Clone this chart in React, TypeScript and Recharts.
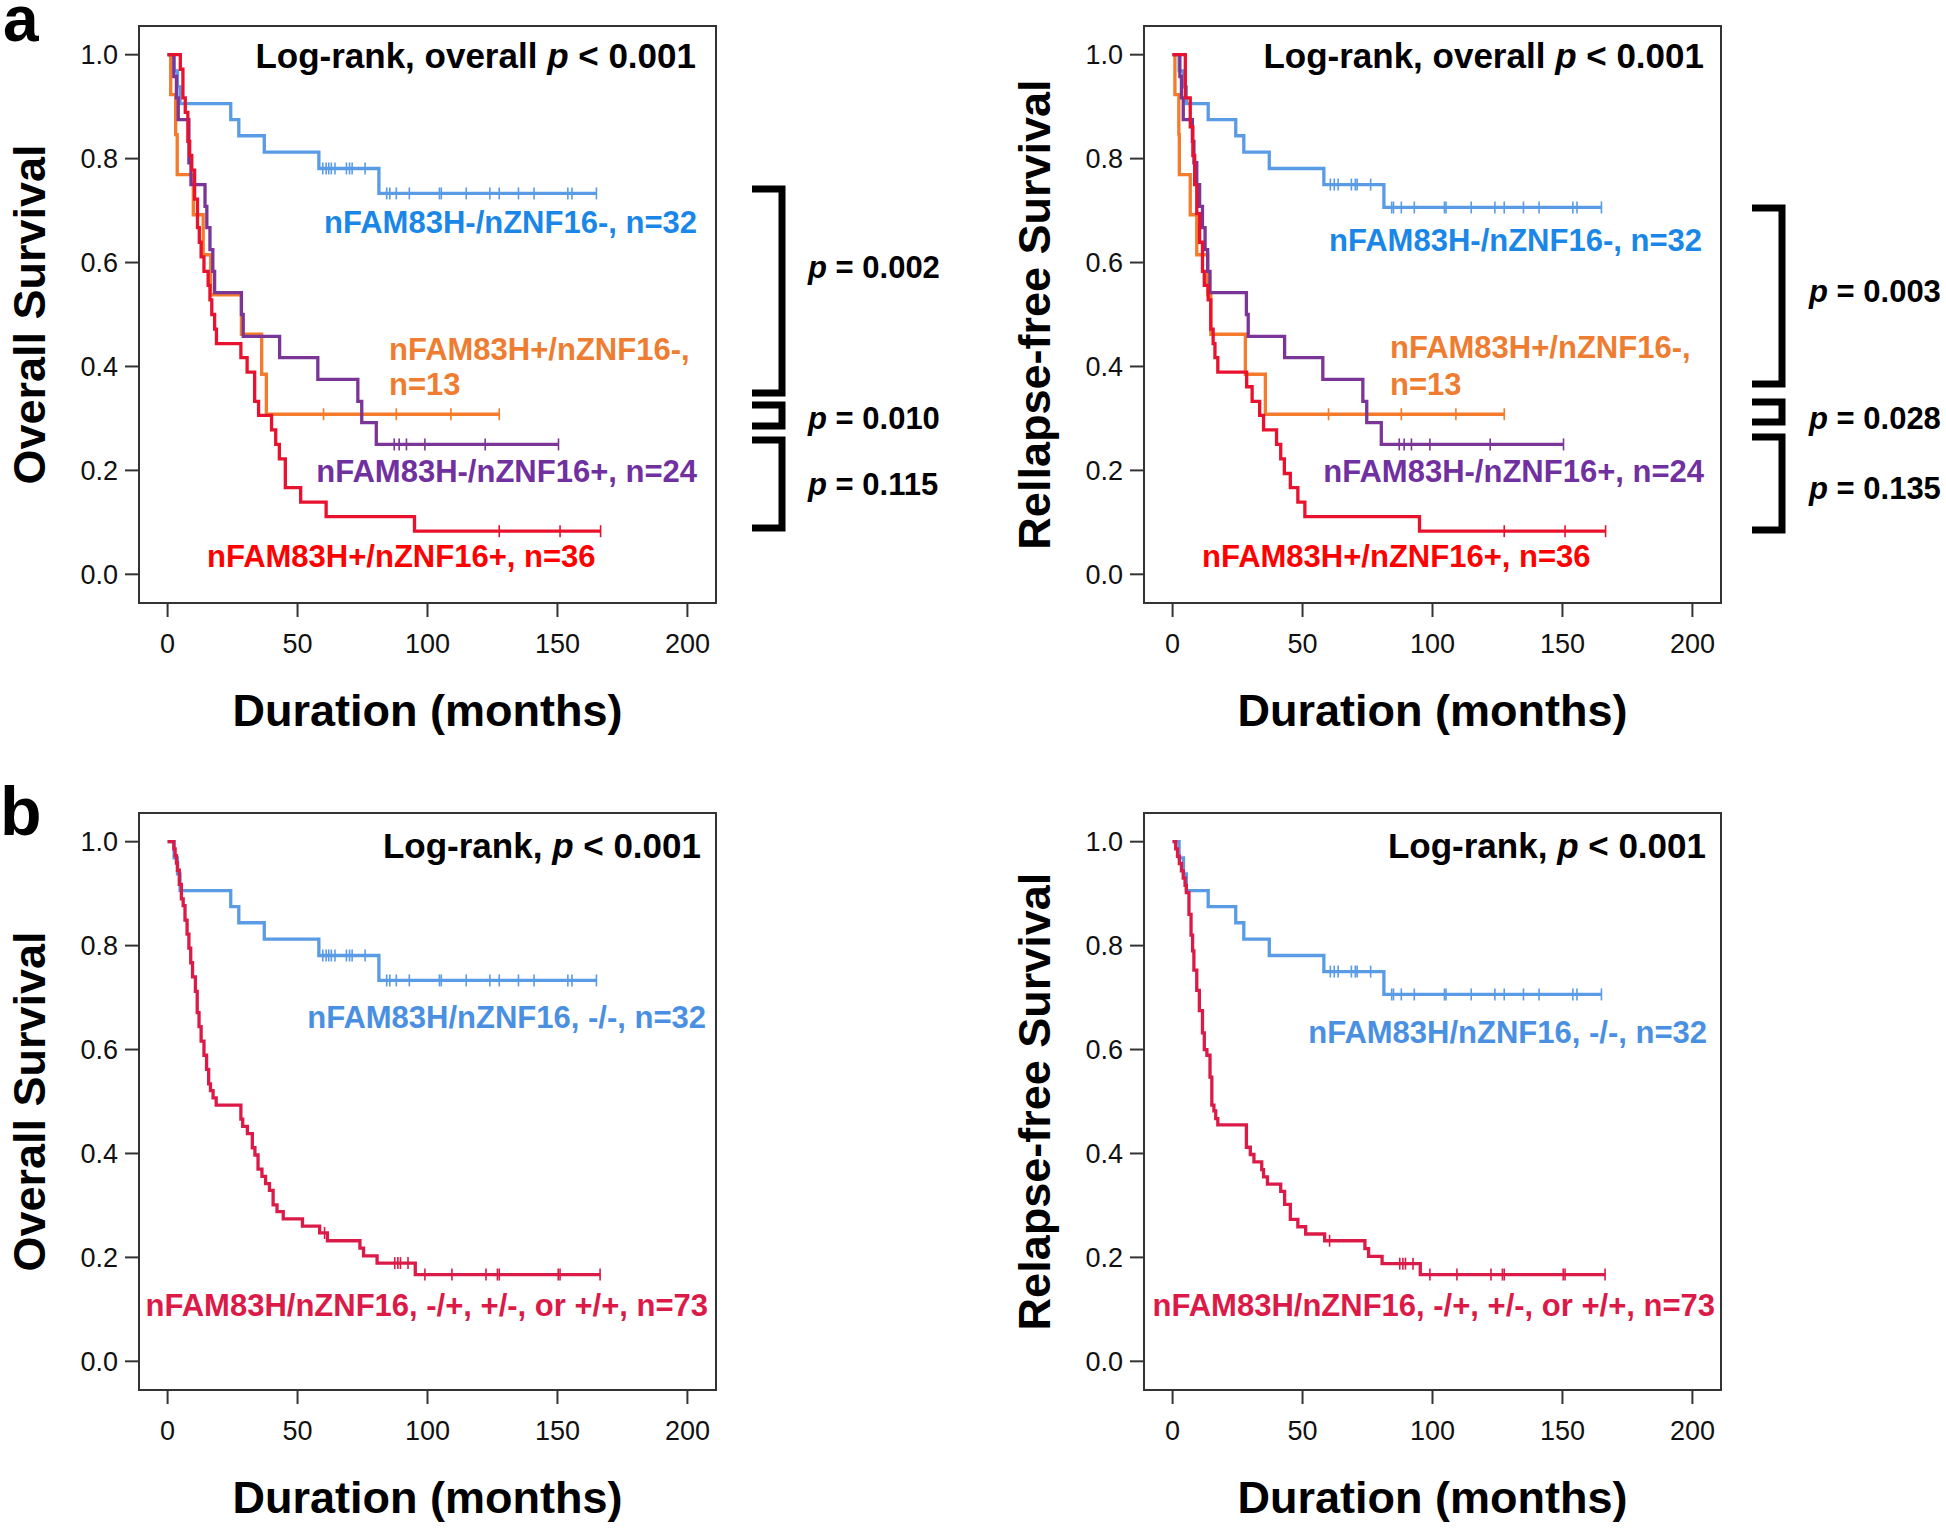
import React from 'react';
import { ComposedChart, Line, Scatter, XAxis, YAxis, ReferenceArea } from 'recharts';

type Pt = [number, number];

const xTicks = [0, 50, 100, 150, 200];
const yTicks = [0, 0.2, 0.4, 0.6, 0.8, 1.0];

// nFAM83H-/nZNF16- (same patients in a and b)
const osBlue: Pt[] = [[0, 1], [2.5, 0.969], [3.8, 0.938], [4.8, 0.906], [24.3, 0.875], [27.4, 0.844], [37.2, 0.8125], [58.2, 0.781], [81.3, 0.733]];
const osBlueCens = [59.7, 61, 62, 63, 64.4, 68.8, 70, 71, 76, 84.3, 85.5, 88, 93, 104.6, 105.3, 114.9, 124, 127.6, 135, 141, 154, 155.6, 165];
const rfsBlue: Pt[] = [[0, 1], [2.5, 0.969], [4.2, 0.938], [5.3, 0.906], [13.7, 0.875], [24.3, 0.844], [27.4, 0.8125], [37.2, 0.781], [58.2, 0.75], [81.3, 0.706]];
const rfsBlueCens = [60.7, 62.2, 63.7, 68.8, 70.3, 71, 76.2, 84.3, 85, 88, 93, 104.6, 105.2, 114.9, 124, 127.6, 135, 141, 154, 155.6, 165];

// a, overall survival
const osOrange: Pt[] = [[0, 1], [1.2, 0.923], [3.1, 0.846], [3.7, 0.769], [9.9, 0.692], [13.7, 0.615], [16.6, 0.538], [28.4, 0.462], [36.2, 0.385], [38, 0.308]];
const osOrangeCens = [60, 88, 109, 127.6];
const osPurple: Pt[] = [[0, 1], [2.4, 0.958], [3.4, 0.917], [4.1, 0.875], [8.2, 0.792], [9, 0.75], [14.4, 0.708], [15.1, 0.667], [16.3, 0.625], [17.4, 0.583], [18.1, 0.542], [28.4, 0.5], [29.1, 0.458], [43.1, 0.417], [57.8, 0.375], [73.2, 0.333], [74.7, 0.292], [80.3, 0.25]];
const osPurpleCens = [87.2, 89.1, 91.9, 99, 122.2, 150.4];
const osRed: Pt[] = [[0, 1], [4.9, 0.972], [5.9, 0.917], [6.8, 0.889], [7.8, 0.833], [8.5, 0.806], [9.3, 0.778], [10.4, 0.722], [11.5, 0.667], [12.2, 0.639], [12.9, 0.611], [14, 0.583], [15.6, 0.556], [16.3, 0.528], [17, 0.5], [18.1, 0.472], [18.8, 0.444], [28.2, 0.417], [30.6, 0.389], [33.5, 0.333], [35, 0.306], [40, 0.278], [41.6, 0.25], [43, 0.222], [45.3, 0.167], [51.2, 0.139], [61, 0.111], [95, 0.083]];
const osRedCens = [127.6, 151, 166.6];

// a, relapse-free survival
const rfsOrange: Pt[] = [[0, 1], [0.9, 0.923], [2.4, 0.846], [2.6, 0.769], [6.8, 0.692], [9.3, 0.615], [13.5, 0.538], [14.7, 0.462], [28, 0.385], [35.7, 0.308]];
const rfsOrangeCens = [60, 88, 109, 127.6];
const rfsPurple: Pt[] = [[0, 1], [2.8, 0.958], [3.4, 0.917], [4.1, 0.875], [7.6, 0.833], [8.2, 0.792], [9.3, 0.75], [10.4, 0.708], [11.5, 0.667], [12.5, 0.625], [13.5, 0.583], [14.4, 0.542], [28.4, 0.5], [29.1, 0.458], [43.1, 0.417], [57.8, 0.375], [73.2, 0.333], [74.7, 0.292], [80.3, 0.25]];
const rfsPurpleCens = [87.2, 89.1, 91.9, 99, 122.2, 150.4];
const rfsRed: Pt[] = [[0, 1], [4.9, 0.917], [6.8, 0.861], [7.8, 0.806], [8.5, 0.75], [9.3, 0.694], [10.4, 0.639], [11.5, 0.583], [12.2, 0.556], [13.7, 0.528], [14.7, 0.472], [15.6, 0.444], [16.3, 0.417], [17.4, 0.389], [28.5, 0.361], [30.6, 0.333], [33.5, 0.306], [35, 0.278], [40, 0.25], [41.6, 0.222], [43, 0.194], [45.3, 0.167], [48.2, 0.139], [50.9, 0.111], [95, 0.083]];
const rfsRedCens = [127.6, 151, 166.6];

// b, combined group (n=73)
const osAny: Pt[] = [[0, 1], [2.4, 0.986], [2.9, 0.973], [3.4, 0.959], [3.8, 0.945], [4.5, 0.918], [5.3, 0.89], [6, 0.877], [6.7, 0.849], [7.5, 0.822], [8.2, 0.795], [8.9, 0.767], [9.6, 0.74], [10.7, 0.712], [11.4, 0.671], [12.1, 0.644], [12.9, 0.616], [14, 0.589], [15, 0.562], [15.8, 0.534], [16.5, 0.521], [17.5, 0.507], [18.7, 0.493], [28.2, 0.466], [28.9, 0.452], [30.7, 0.438], [32.6, 0.411], [33.6, 0.397], [34.8, 0.37], [36.3, 0.356], [37.7, 0.342], [39.2, 0.329], [40.6, 0.301], [42.1, 0.288], [44.5, 0.274], [51.9, 0.26], [58.5, 0.247], [61.5, 0.232], [74, 0.218], [75.4, 0.203], [80.6, 0.189], [95.3, 0.167]];
const osAnyCens = [60.4, 87.4, 88.6, 89.6, 92.5, 99, 109.4, 122.5, 126.9, 127.6, 150.3, 151, 166.4];
const rfsAny: Pt[] = [[0, 1], [1.2, 0.986], [1.9, 0.972], [2.6, 0.958], [3.4, 0.944], [4.1, 0.93], [4.8, 0.916], [5.3, 0.902], [6.3, 0.86], [7.1, 0.82], [7.7, 0.79], [8.2, 0.753], [9.3, 0.714], [10.3, 0.675], [11.5, 0.632], [12.2, 0.6], [13.2, 0.589], [14.4, 0.547], [15.1, 0.493], [15.9, 0.482], [16.6, 0.467], [17.4, 0.455], [28.4, 0.412], [29.9, 0.398], [31.3, 0.384], [34.3, 0.369], [35, 0.355], [36.5, 0.341], [41.6, 0.327], [43.1, 0.302], [45.3, 0.273], [48.2, 0.259], [51.2, 0.245], [58.5, 0.232], [74, 0.217], [75.4, 0.202], [80.6, 0.188], [95.3, 0.167]];
const rfsAnyCens = [60.4, 87.4, 88.6, 89.6, 92.5, 99, 109.4, 122.5, 126.9, 127.6, 150.3, 151, 166.4];

const BLUE = '#5a9be6';
const ORANGE = '#f47a2c';
const PURPLE = '#7a3596';
const RED = '#e8122f';
const CRIMSON = '#dc1a48';

const X_DOM: [number, number] = [-11, 211];
const Y_DOM: [number, number] = [-0.0552, 1.0552];
const BOX = 577;
const FONT = '"Liberation Sans", Arial, Helvetica, sans-serif';

type Series = { steps: Pt[]; cens: number[]; color: string };

function levelAt(steps: Pt[], t: number) {
  let s = 1;
  for (const [ti, si] of steps) if (ti <= t) s = si;
  return s;
}

function lineData(steps: Pt[], cens: number[]) {
  const pts = steps.map(([t, s]) => ({ t, s }));
  const lastT = steps[steps.length - 1][0];
  const end = Math.max(lastT, ...cens);
  if (end > lastT) pts.push({ t: end, s: steps[steps.length - 1][1] });
  return pts;
}

const censorMark = (color: string) => (p: any) => (
  <line x1={p.cx} x2={p.cx} y1={p.cy - 6} y2={p.cy + 6} stroke={color} strokeWidth={1.6} />
);

function KMPanel({ left, top, series }: { left: number; top: number; series: Series[] }) {
  const tickStyle = { fill: '#111', fontSize: 27, fontFamily: FONT };
  return (
    <div style={{ position: 'absolute', left: left - 139, top: top - 10 }}>
      <ComposedChart width={139 + BOX + 10} height={10 + BOX + 135} margin={{ top: 10, right: 10, bottom: 0, left: 0 }}>
        <XAxis
          type="number"
          dataKey="t"
          domain={X_DOM}
          ticks={xTicks}
          allowDataOverflow
          axisLine={false}
          tickSize={14}
          tickMargin={17}
          height={135}
          tick={tickStyle}
          tickLine={{ stroke: '#333', strokeWidth: 2 }}
        />
        <YAxis
          type="number"
          dataKey="s"
          domain={Y_DOM}
          ticks={yTicks}
          allowDataOverflow
          axisLine={false}
          width={139}
          tickSize={14}
          tickMargin={7}
          tick={tickStyle}
          tickLine={{ stroke: '#333', strokeWidth: 2 }}
          tickFormatter={(v: number) => v.toFixed(1)}
        />
        <ReferenceArea x1={X_DOM[0]} x2={X_DOM[1]} y1={Y_DOM[0]} y2={Y_DOM[1]} fill="none" fillOpacity={0} stroke="#333" strokeWidth={2} />
        {series.map((s, i) => (
          <Line
            key={'l' + i}
            data={lineData(s.steps, s.cens)}
            dataKey="s"
            type="stepAfter"
            stroke={s.color}
            strokeWidth={3.3}
            dot={false}
            activeDot={false}
            isAnimationActive={false}
          />
        ))}
        {series.map((s, i) => (
          <Scatter
            key={'c' + i}
            data={s.cens.map((t) => ({ t, s: levelAt(s.steps, t) }))}
            dataKey="s"
            shape={censorMark(s.color)}
            isAnimationActive={false}
          />
        ))}
      </ComposedChart>
    </div>
  );
}

function Bracket({ x1, x2, y1, y2 }: { x1: number; x2: number; y1: number; y2: number }) {
  return <polyline points={`${x1},${y1} ${x2},${y1} ${x2},${y2} ${x1},${y2}`} fill="none" stroke="#000" strokeWidth={7} />;
}

function PText({ x, y, value }: { x: number; y: number; value: string }) {
  return (
    <text x={x} y={y} fontSize={31} fontWeight="bold">
      <tspan fontStyle="italic">p</tspan> = {value}
    </text>
  );
}

export default function App() {
  const LX = 139;
  const RX = 1144;
  const TY = 26;
  const BY = 813;
  return (
    <div style={{ position: 'absolute', left: 0, top: 0, width: 1946, height: 1528, background: '#fff', overflow: 'hidden' }}>
      <KMPanel left={LX} top={TY} series={[
        { steps: osBlue, cens: osBlueCens, color: BLUE },
        { steps: osOrange, cens: osOrangeCens, color: ORANGE },
        { steps: osPurple, cens: osPurpleCens, color: PURPLE },
        { steps: osRed, cens: osRedCens, color: RED },
      ]} />
      <KMPanel left={RX} top={TY} series={[
        { steps: rfsBlue, cens: rfsBlueCens, color: BLUE },
        { steps: rfsOrange, cens: rfsOrangeCens, color: ORANGE },
        { steps: rfsPurple, cens: rfsPurpleCens, color: PURPLE },
        { steps: rfsRed, cens: rfsRedCens, color: RED },
      ]} />
      <KMPanel left={LX} top={BY} series={[
        { steps: osBlue, cens: osBlueCens, color: BLUE },
        { steps: osAny, cens: osAnyCens, color: CRIMSON },
      ]} />
      <KMPanel left={RX} top={BY} series={[
        { steps: rfsBlue, cens: rfsBlueCens, color: BLUE },
        { steps: rfsAny, cens: rfsAnyCens, color: CRIMSON },
      ]} />

      <svg width={1946} height={1528} style={{ position: 'absolute', left: 0, top: 0, pointerEvents: 'none' }} fontFamily={FONT}>
        <text x={3} y={41} fontSize={64} fontWeight="bold">a</text>
        <text x={0} y={835} fontSize={68} fontWeight="bold">b</text>

        {/* axis titles */}
        {[[LX, TY, 'Overall Survival'], [RX, TY, 'Rellapse-free Survival'], [LX, BY, 'Overall Survival'], [RX, BY, 'Relapse-free Survival']].map(([bx, by, label], i) => {
          const cx = (bx as number) - 110 + 16;
          const cy = (by as number) + BOX / 2;
          return (
            <text key={'yt' + i} x={cx} y={cy} fontSize={45} fontWeight="bold" textAnchor="middle" transform={`rotate(-90 ${cx} ${cy})`}>
              {label}
            </text>
          );
        })}
        {[[LX, TY], [RX, TY], [LX, BY], [RX, BY]].map(([bx, by], i) => (
          <text key={'xt' + i} x={bx + BOX / 2} y={by + BOX + 123} fontSize={45} fontWeight="bold" textAnchor="middle">
            Duration (months)
          </text>
        ))}

        {/* a, left */}
        <text x={696} y={68} fontSize={35} fontWeight="bold" textAnchor="end">
          Log-rank, overall <tspan fontStyle="italic">p</tspan> &lt; 0.001
        </text>
        <text x={697} y={233} fontSize={31} fontWeight="bold" textAnchor="end" fill="#1a87e8">nFAM83H-/nZNF16-, n=32</text>
        <text x={389} y={360} fontSize={31} fontWeight="bold" fill="#ee7d31">nFAM83H+/nZNF16-,</text>
        <text x={389} y={395} fontSize={31} fontWeight="bold" fill="#ee7d31">n=13</text>
        <text x={697} y={482} fontSize={31} fontWeight="bold" textAnchor="end" fill="#7030a0">nFAM83H-/nZNF16+, n=24</text>
        <text x={207} y={567} fontSize={31} fontWeight="bold" fill="#ff0000">nFAM83H+/nZNF16+, n=36</text>
        <Bracket x1={752} x2={782} y1={189} y2={393} />
        <Bracket x1={752} x2={782} y1={405} y2={426} />
        <Bracket x1={752} x2={782} y1={440} y2={528} />
        <PText x={808} y={278} value="0.002" />
        <PText x={808} y={429} value="0.010" />
        <PText x={808} y={495} value="0.115" />

        {/* a, right */}
        <text x={1704} y={68} fontSize={35} fontWeight="bold" textAnchor="end">
          Log-rank, overall <tspan fontStyle="italic">p</tspan> &lt; 0.001
        </text>
        <text x={1702} y={251} fontSize={31} fontWeight="bold" textAnchor="end" fill="#1a87e8">nFAM83H-/nZNF16-, n=32</text>
        <text x={1390} y={358} fontSize={31} fontWeight="bold" fill="#ee7d31">nFAM83H+/nZNF16-,</text>
        <text x={1390} y={395} fontSize={31} fontWeight="bold" fill="#ee7d31">n=13</text>
        <text x={1704} y={482} fontSize={31} fontWeight="bold" textAnchor="end" fill="#7030a0">nFAM83H-/nZNF16+, n=24</text>
        <text x={1202} y={567} fontSize={31} fontWeight="bold" fill="#ff0000">nFAM83H+/nZNF16+, n=36</text>
        <Bracket x1={1752} x2={1782} y1={208} y2={384} />
        <Bracket x1={1752} x2={1782} y1={402} y2={422} />
        <Bracket x1={1752} x2={1782} y1={437} y2={530} />
        <PText x={1809} y={302} value="0.003" />
        <PText x={1809} y={429} value="0.028" />
        <PText x={1809} y={499} value="0.135" />

        {/* b, left */}
        <text x={701} y={858} fontSize={35} fontWeight="bold" textAnchor="end">
          Log-rank, <tspan fontStyle="italic">p</tspan> &lt; 0.001
        </text>
        <text x={706} y={1028} fontSize={31} fontWeight="bold" textAnchor="end" fill="#4a90e2">nFAM83H/nZNF16, -/-, n=32</text>
        <text x={708} y={1316} fontSize={31} fontWeight="bold" textAnchor="end" fill={CRIMSON}>nFAM83H/nZNF16, -/+, +/-, or +/+, n=73</text>

        {/* b, right */}
        <text x={1706} y={858} fontSize={35} fontWeight="bold" textAnchor="end">
          Log-rank, <tspan fontStyle="italic">p</tspan> &lt; 0.001
        </text>
        <text x={1707} y={1043} fontSize={31} fontWeight="bold" textAnchor="end" fill="#4a90e2">nFAM83H/nZNF16, -/-, n=32</text>
        <text x={1715} y={1316} fontSize={31} fontWeight="bold" textAnchor="end" fill={CRIMSON}>nFAM83H/nZNF16, -/+, +/-, or +/+, n=73</text>
      </svg>
    </div>
  );
}
